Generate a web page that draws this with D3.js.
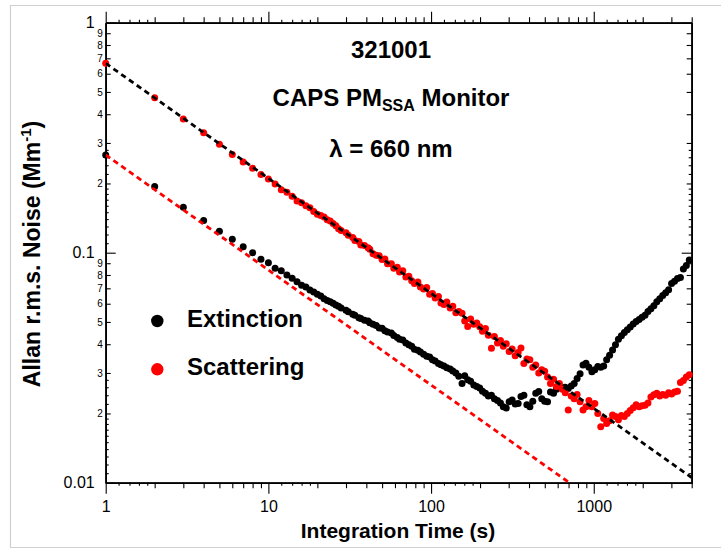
<!DOCTYPE html>
<html><head><meta charset="utf-8">
<script src="https://cdn.jsdelivr.net/npm/d3@7"></script>
<style>body{margin:0;background:#fff}svg{display:block}text{font-family:"Liberation Sans",Arial,sans-serif}</style>
</head><body>
<script>
// ---- data ----
const tau = [1,2,3,4,5,6,7,8,9,10,11,12,13,14,15,16,17,18,19,20,21,22,23,24,25,26,27,28,
30,31,33,34,36,37,39,41,42,44,46,48,50,52,54,57,59,62,64,67,70,73,76,79,83,86,90,94,98,
102,106,111,115,120,125,131,136,142,148,155,161,168,175,183,191,199,207,216,225,235,245,256,267,278,290,
302,315,329,343,357,372,388,405,422,440,459,479,499,520,542,566,590,615,641,668,697,727,758,790,824,859,896,934,974,
1015,1059,1104,1151,1200,1251,1305,1360,1418,1479,1542,1608,1676,1748,1822,1900,1981,2066,2154,2246,2341,2441,2545,2654,2767,2885,3008,3136,3270,3410,3555,3707,3865];

const extinction = [0.266,0.194,0.1575,0.138,0.124,0.1143,0.1062,0.100,0.0936,0.0905,0.0855,0.0835,0.080,0.0774,0.0748,0.0722,0.0710,0.0689,0.0675,0.066,0.0648,0.0630,0.0620,0.0612,0.0603,0.0592,0.0585,0.0575,
0.0562,0.0553,0.0540,0.0535,0.0522,0.0518,0.0508,0.0505,0.0496,0.0488,0.0482,0.0470,0.0469,0.0458,0.0452,0.0448,0.0436,0.0428,0.0420,0.0417,0.0405,0.0398,0.0392,0.0380,0.0377,0.0370,0.0362,0.0355,0.0352,
0.0342,0.0338,0.0330,0.0326,0.0322,0.0316,0.0312,0.0306,0.0300,0.0290,0.0270,0.0292,0.0280,0.0276,0.0266,0.0262,0.0258,0.0250,0.0245,0.0238,0.0240,0.0232,0.0228,0.0222,0.0214,0.0211,
0.0225,0.0229,0.0220,0.0221,0.0237,0.0240,0.0218,0.0214,0.0226,0.0245,0.0249,0.0232,0.0226,0.0225,0.0248,0.0245,0.0255,0.0262,0.0258,0.0260,0.0257,0.0263,0.0270,0.0284,0.0298,0.0325,0.0331,0.0318,0.0304,
0.0310,0.0320,0.0318,0.0322,0.0342,0.0358,0.0378,0.0398,0.0420,0.0435,0.0450,0.0462,0.0475,0.0490,0.0502,0.0512,0.0524,0.0535,0.0555,0.0570,0.0588,0.0612,0.0630,0.0652,0.0670,0.0690,0.0735,0.0752,0.0772,0.0780,0.0850,0.0880,0.0929];

const scattering = [0.666,0.472,0.381,0.332,0.296,0.267,0.248,0.233,0.219,0.209,0.199,0.188,0.183,0.176,0.168,0.165,0.160,0.157,0.151,0.147,0.145,0.143,0.139,0.1375,0.134,0.131,0.127,0.125,
0.122,0.119,0.1165,0.113,0.112,0.108,0.1075,0.105,0.1035,0.099,0.0975,0.097,0.0935,0.094,0.0895,0.0895,0.0855,0.0865,0.0825,0.0835,0.0785,0.079,0.0755,0.0735,0.0745,0.071,0.0695,0.0705,0.066,
0.0665,0.0635,0.0645,0.0605,0.0595,0.061,0.0575,0.0585,0.0548,0.0555,0.0545,0.0505,0.0478,0.0515,0.0488,0.0495,0.0477,0.0455,0.0468,0.0438,0.0384,0.0432,0.0405,0.0415,0.0392,0.0402,
0.0372,0.0381,0.0356,0.0368,0.0385,0.0330,0.0345,0.0342,0.0318,0.0325,0.0300,0.0310,0.0305,0.0288,0.0270,0.0282,0.0262,0.0270,0.0255,0.0246,0.0207,0.0238,0.0232,0.0242,0.0225,0.0207,0.0214,0.0228,0.0214,
0.0221,0.0200,0.0175,0.0190,0.0181,0.0186,0.0197,0.0194,0.0188,0.0196,0.0194,0.0200,0.0206,0.0212,0.0218,0.0214,0.0216,0.0217,0.0222,0.0236,0.0241,0.0245,0.0238,0.0242,0.0240,0.0246,0.0243,0.0248,0.0250,0.0273,0.0278,0.0288,0.0295];

// white-noise reference lines (sigma at tau = 1 s, slope -1/2)
const fitLines = [
  {name:"scatFit", sigma1:0.666, color:"#000"},
  {name:"extFit",  sigma1:0.266, color:"#ff0000"}
];
const xMajor = [1,10,100,1000];
const xMajorLabels = ["1","10","100","1000"];
const yMajor = [1,0.1,0.01];
const yMajorLabels = ["1","0.1","0.01"];
const mantissa = [2,3,4,5,6,7,8,9];
const xSub = [1.2,1.4,1.6,1.8];
const ySub = [1.1,1.2,1.3,1.4,1.5,1.6,1.7,1.8,1.9,2.2,2.4,2.6,2.8];
const decadesX = [1,10,100,1000];
const decadesY = [0.01,0.1];
const legendItems = [{label:"Extinction", color:"#000"},{label:"Scattering", color:"#ff0000"}];

// ---- layout ----
const W = 721, H = 550;
const L = 105.7, R = 691.7, T = 22.7, B = 482.7;
const svg = d3.select("body").append("svg").attr("width", W).attr("height", H);
svg.append("rect").attr("width", W).attr("height", H).attr("fill", "#fff");
// outer frame
svg.append("path").attr("d", `M${W},5.5H10.5V547.5H${W}`).attr("fill","none").attr("stroke","#d0d0d0").attr("stroke-width",1.2);

const x = d3.scaleLog().domain([1, 4000]).range([L, R]);
const y = d3.scaleLog().domain([0.01, 1]).range([B, T]);

const inX = v => v >= 1 && v <= 4000;
const xMed = decadesX.flatMap(d => mantissa.map(m => m*d)).filter(inX);
const xSmall = decadesX.flatMap(d => xSub.map(m => +(m*d).toPrecision(3))).filter(inX);
const yMed = decadesY.flatMap(d => mantissa.map(m => +(m*d).toPrecision(3)));
const ySmall = decadesY.flatMap(d => ySub.map(m => +(m*d).toPrecision(3)));

function styleAxis(g, domainW) {
  g.select(".domain").attr("stroke","#000").attr("stroke-width",domainW);
  g.selectAll(".tick line").attr("stroke","#000").attr("stroke-width",1.1);
}
function addAxis(gen, tr, vals, size, fmt, pad, fs) {
  const a = gen.tickValues(vals).tickSizeInner(size).tickSizeOuter(0).tickPadding(pad).tickFormat(fmt);
  const g = svg.append("g").attr("transform", tr).call(a);
  g.selectAll("text").attr("font-size", fs).attr("fill","#000").style("font-family",'"Liberation Sans",Arial,sans-serif');
  styleAxis(g, 1.5);
  return g;
}
const none = () => "";
// bottom
addAxis(d3.axisBottom(x), `translate(0,${B})`, xSmall, 3, none, 0, 0);
addAxis(d3.axisBottom(x), `translate(0,${B})`, xMed, 5.5, none, 0, 0);
addAxis(d3.axisBottom(x), `translate(0,${B})`, xMajor, 11, (d,i) => xMajorLabels[i], 7, 16);
// top
addAxis(d3.axisTop(x), `translate(0,${T})`, xSmall, 3, none, 0, 0);
addAxis(d3.axisTop(x), `translate(0,${T})`, xMed, 5.5, none, 0, 0);
addAxis(d3.axisTop(x), `translate(0,${T})`, xMajor, 11, none, 0, 0);
// left (ticks inward)
addAxis(d3.axisLeft(y), `translate(${L},0)`, ySmall, -3, none, 0, 0);
addAxis(d3.axisLeft(y), `translate(${L},0)`, yMed, -5, d => String(Math.round(d / Math.pow(10, Math.floor(Math.log10(d)+1e-9)))), 3, 10);
addAxis(d3.axisLeft(y), `translate(${L},0)`, yMajor, -10, (d,i) => yMajorLabels[i], 11, 16);
// right (ticks inward)
addAxis(d3.axisRight(y), `translate(${R},0)`, ySmall, -3, none, 0, 0);
addAxis(d3.axisRight(y), `translate(${R},0)`, yMed, -5, none, 0, 0);
addAxis(d3.axisRight(y), `translate(${R},0)`, yMajor, -10, none, 0, 0);

// ---- data points ----
const plot = svg.append("g");
const ext = tau.map((t,i) => ({t, v: extinction[i]})).filter(d => d.v !== undefined);
const sca = tau.map((t,i) => ({t, v: scattering[i]})).filter(d => d.v !== undefined);
plot.selectAll("circle.ext").data(ext).join("circle").attr("class","ext")
  .attr("cx", d => x(d.t)).attr("cy", d => y(d.v)).attr("r", 3.5).attr("fill", "#000");
plot.selectAll("circle.sca").data(sca).join("circle").attr("class","sca")
  .attr("cx", d => x(d.t)).attr("cy", d => y(d.v)).attr("r", 3.5).attr("fill", "#ff0000");

// ---- white-noise lines ----
svg.append("clipPath").attr("id","clip").append("rect").attr("x",L).attr("y",T).attr("width",R-L).attr("height",B-T);
const line = d3.line().x(d => x(d[0])).y(d => y(d[1]));
fitLines.forEach(f => {
  const tEnd = Math.min(4000, Math.pow(f.sigma1/0.01, 2));
  svg.append("path").attr("clip-path","url(#clip)")
    .attr("d", line([[1, f.sigma1],[tEnd, f.sigma1/Math.sqrt(tEnd)]]))
    .attr("fill","none").attr("stroke", f.color).attr("stroke-width", 2.8).attr("stroke-dasharray","5.5,4");
});

// ---- titles ----
const tb = svg.append("g").attr("font-weight","bold").attr("fill","#000").attr("text-anchor","middle");
tb.append("text").attr("x",391).attr("y",58).attr("font-size",24).text("321001");
const t2 = tb.append("text").attr("x",391).attr("y",106).attr("font-size",24);
t2.append("tspan").text("CAPS PM");
t2.append("tspan").attr("font-size",16).attr("dy",5).text("SSA");
t2.append("tspan").attr("dy",-5).text(" Monitor");
tb.append("text").attr("x",391).attr("y",157).attr("font-size",24).text("λ = 660 nm");

// ---- legend ----
legendItems.forEach((d,i) => {
  svg.append("circle").attr("cx",157.3).attr("cy",321 + i*48.3).attr("r",6.2).attr("fill",d.color);
  svg.append("text").attr("x",187).attr("y",327 + i*48.3).attr("font-size",24).attr("font-weight","bold").text(d.label);
});

// ---- axis titles ----
svg.append("text").attr("x",398).attr("y",538).attr("text-anchor","middle").attr("font-size",21).attr("font-weight","bold").text("Integration Time (s)");
const yl = svg.append("text").attr("transform","translate(39.5,254) rotate(-90)").attr("text-anchor","middle").attr("font-size",23).attr("font-weight","bold");
yl.append("tspan").text("Allan r.m.s. Noise (Mm");
yl.append("tspan").attr("font-size",15).attr("dy",-9).text("-1");
yl.append("tspan").attr("dy",9).text(")");
</script>
</body></html>
